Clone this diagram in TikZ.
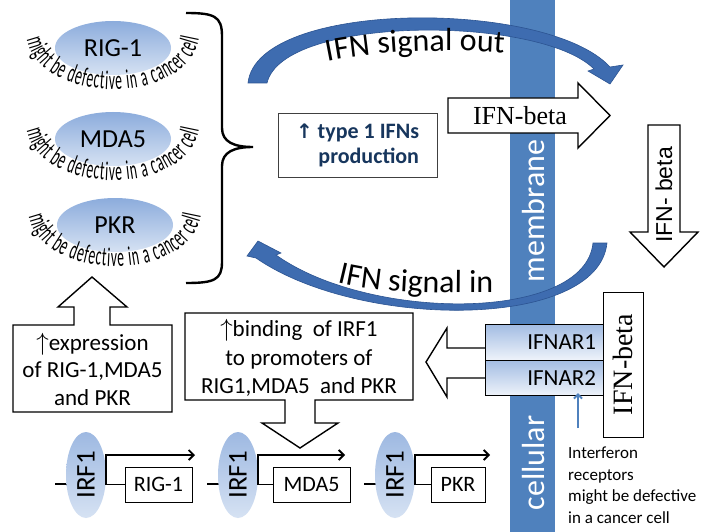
\documentclass[tikz,border=0pt]{standalone}
\usepackage{fontspec}
\setmainfont{Carlito}
\newfontfamily\timesfont{Liberation Serif}
\newfontfamily\arialfont{Liberation Sans}
\newfontfamily\archfont[FakeStretch=0.5]{Carlito}
\newfontfamily\symbfont{DejaVu Sans}
\usetikzlibrary{arrows.meta,shapes.geometric,decorations.text}

\definecolor{membblue}{RGB}{79,129,189}
\definecolor{sigblue}{RGB}{62,108,176}
\definecolor{sigedge}{RGB}{44,84,146}
\definecolor{navytext}{RGB}{23,54,93}
\definecolor{paleblue}{RGB}{214,226,243}
\definecolor{midblue}{RGB}{140,172,220}

\newcommand{\fs}[2]{\fontsize{#1}{#2}\selectfont}
\newcommand{\archstyle}{\archfont\fontsize{27}{27}\selectfont}
\newcommand{\sigstyle}{\fontsize{32}{32}\selectfont}

\tikzset{
  sensor/.style={ellipse, minimum width=116pt, minimum height=54pt, top color=midblue, bottom color=paleblue, font=\fs{26}{30}},
  irf/.style={ellipse, rotate=90, minimum width=86pt, minimum height=40pt, top color=midblue!85, bottom color=paleblue, font=\fs{27}{30}},
  genebox/.style={draw, line width=1pt, fill=white, minimum height=35pt, font=\fs{22}{26}},
  ifnar/.style={draw, line width=0.8pt, minimum height=35.5pt, text width=104pt, align=right, inner xsep=7pt, top color=midblue!80, bottom color=paleblue!40, font=\fs{23}{26}},
  blockarrow/.style={draw, line width=1.4pt, fill=white, line join=miter},
  signal/.style={fill=sigblue, draw=sigedge, line width=0.6pt},
  arch/.style={decorate, decoration={text along path, text align=fit to path, text={|\archstyle|might be defective in a cancer cell}}},
  promoter/.style={line width=1.8pt, -{Straight Barb[length=5pt,width=10pt]}},
  membtext/.style={rotate=90, text=white, font=\fs{32}{34}}
}

\begin{document}
\begin{tikzpicture}[x=1pt,y=-1pt]
\useasboundingbox (0,0) rectangle (709,532);
\fill[white] (0,0) rectangle (709,532);
\fill[membblue] (510,0) rectangle (555,532);

\draw[line width=2.4pt] (186,13) .. controls (214,13) and (222,16) .. (222,36) -- (222,128) .. controls (222,142) and (234,147) .. (253,147)
  .. controls (234,147) and (222,152) .. (222,166) -- (222,262) .. controls (222,280) and (214,283) .. (186,283);

\node[sensor] (rig) at (113,48) {RIG-1};
\node[sensor] (mda) at (113,139) {MDA5};
\node[sensor] (pkr) at (115,225) {PKR};
\foreach \cx/\cy in {113/48,113/139,115/225}
  \path[arch] (\cx-86,\cy-9) .. controls (\cx-74,\cy+58) and (\cx+74,\cy+58) .. (\cx+86,\cy-9);

\node[draw=black!75, line width=0.8pt, minimum width=159pt, minimum height=64pt, align=right, text=navytext, font=\bfseries\fs{22}{25}] (type1) at (357.5,145) {{\symbfont\bfseries\fs{20}{25}↑} type 1 IFNs\\production};

\draw[blockarrow] (448,98) -- (578,98) -- (578,83) -- (610,115.5) -- (578,148) -- (578,133) -- (448,133) -- cycle;
\node[font=\timesfont\fs{26}{28}] (outbeta) at (520,116) {IFN-beta};

\fill[signal] (248,83) .. controls (257,-1) and (548,-1) .. (610,67) -- (623,65) -- (610,84) -- (588,71) -- (594,69)
  .. controls (540,15) and (283,15) .. (267,83) -- cycle;
\path[decorate, decoration={text along path, text align=center, text={|\sigstyle|IFN signal out}}] (324,62) .. controls (370,52) and (440,48) .. (508,53);

\draw[blockarrow] (648,125) -- (680,125) -- (680,232) -- (698,232) -- (664,267) -- (630,232) -- (648,232) -- cycle;
\node[rotate=90, font=\arialfont\fs{23}{25}] (downbeta) at (664,195) {IFN- beta};

\node[membtext] (memb) at (533,211) {membrane};
\node[membtext] (cell) at (533,463) {cellular};

\fill[signal] (607,243) .. controls (598,330) and (360,330) .. (256,258) -- (247,256) -- (258,241) -- (281,253) -- (276,255)
  .. controls (370,322) and (585,322) .. (593,243) -- cycle;
\path[decorate, decoration={text along path, text align=center, text={|\sigstyle|IFN signal in}}] (333,281) .. controls (372,292) and (420,293) .. (498,293);

\draw[blockarrow] (485,348) -- (447,348) -- (447,328) -- (426,362) -- (447,397) -- (447,378) -- (485,378);
\node[ifnar] (r1) at (544,342.5) {IFNAR1};
\node[ifnar] (r2) at (544,378) {IFNAR2};
\node[draw, line width=0.8pt, fill=white, rotate=90, minimum width=145pt, minimum height=40pt, font=\timesfont\fs{28}{30}] (vbeta) at (623,364.5) {IFN-beta};

\coordinate (rc) at (578,428);
\draw[membblue, line width=2pt, -{Straight Barb[length=4pt,width=8pt]}] (rc) -- ([yshift=3pt]rc |- r2.south);
\node[anchor=north west, align=left, inner sep=0pt, font=\fs{17}{21.5}] (note) at (568,447) {Interferon\\receptors\\might be defective\\in a cancer cell};

\draw[blockarrow] (13,325) -- (74,325) -- (74,307) -- (58,307) -- (92,277) -- (127,307) -- (110,307) -- (110,325) -- (172,325) -- (172,412) -- (13,412) -- cycle;
\node[align=center, font=\fs{23}{27.5}] (expr) at (92.5,369) {$\uparrow$expression\\of RIG-1,MDA5\\and PKR};

\draw[blockarrow] (185,313) -- (413,313) -- (413,400) -- (315,400) -- (315,423) -- (338,423) -- (300,448) -- (262,423) -- (285,423) -- (285,400) -- (185,400) -- cycle;
\node[align=center, font=\fs{23}{28.5}] (bind) at (299,358) {$\uparrow$binding\ \ of IRF1\\to promoters of\\RIG1,MDA5\ \ and PKR};

\foreach \n/\gx/\bx/\bw/\lab/\tx in {1/86/158.5/67pt/RIG-1/195, 2/238/311.5/77pt/MDA5/345, 3/395/458/54pt/PKR/490} {
  \coordinate (d\n) at (\gx-31,484);
  \draw[line width=1.2pt] (d\n) -- (\gx,484);
  \node[irf] (i\n) at (\gx,475) {IRF1};
  \node[genebox, minimum width=\bw] (g\n) at (\bx,484.5) {\lab};
  \coordinate (t\n) at (\tx,455);
  \draw[promoter] (g\n.west) -- (g\n.west -| i\n.south) |- (t\n);
}
\end{tikzpicture}
\end{document}
